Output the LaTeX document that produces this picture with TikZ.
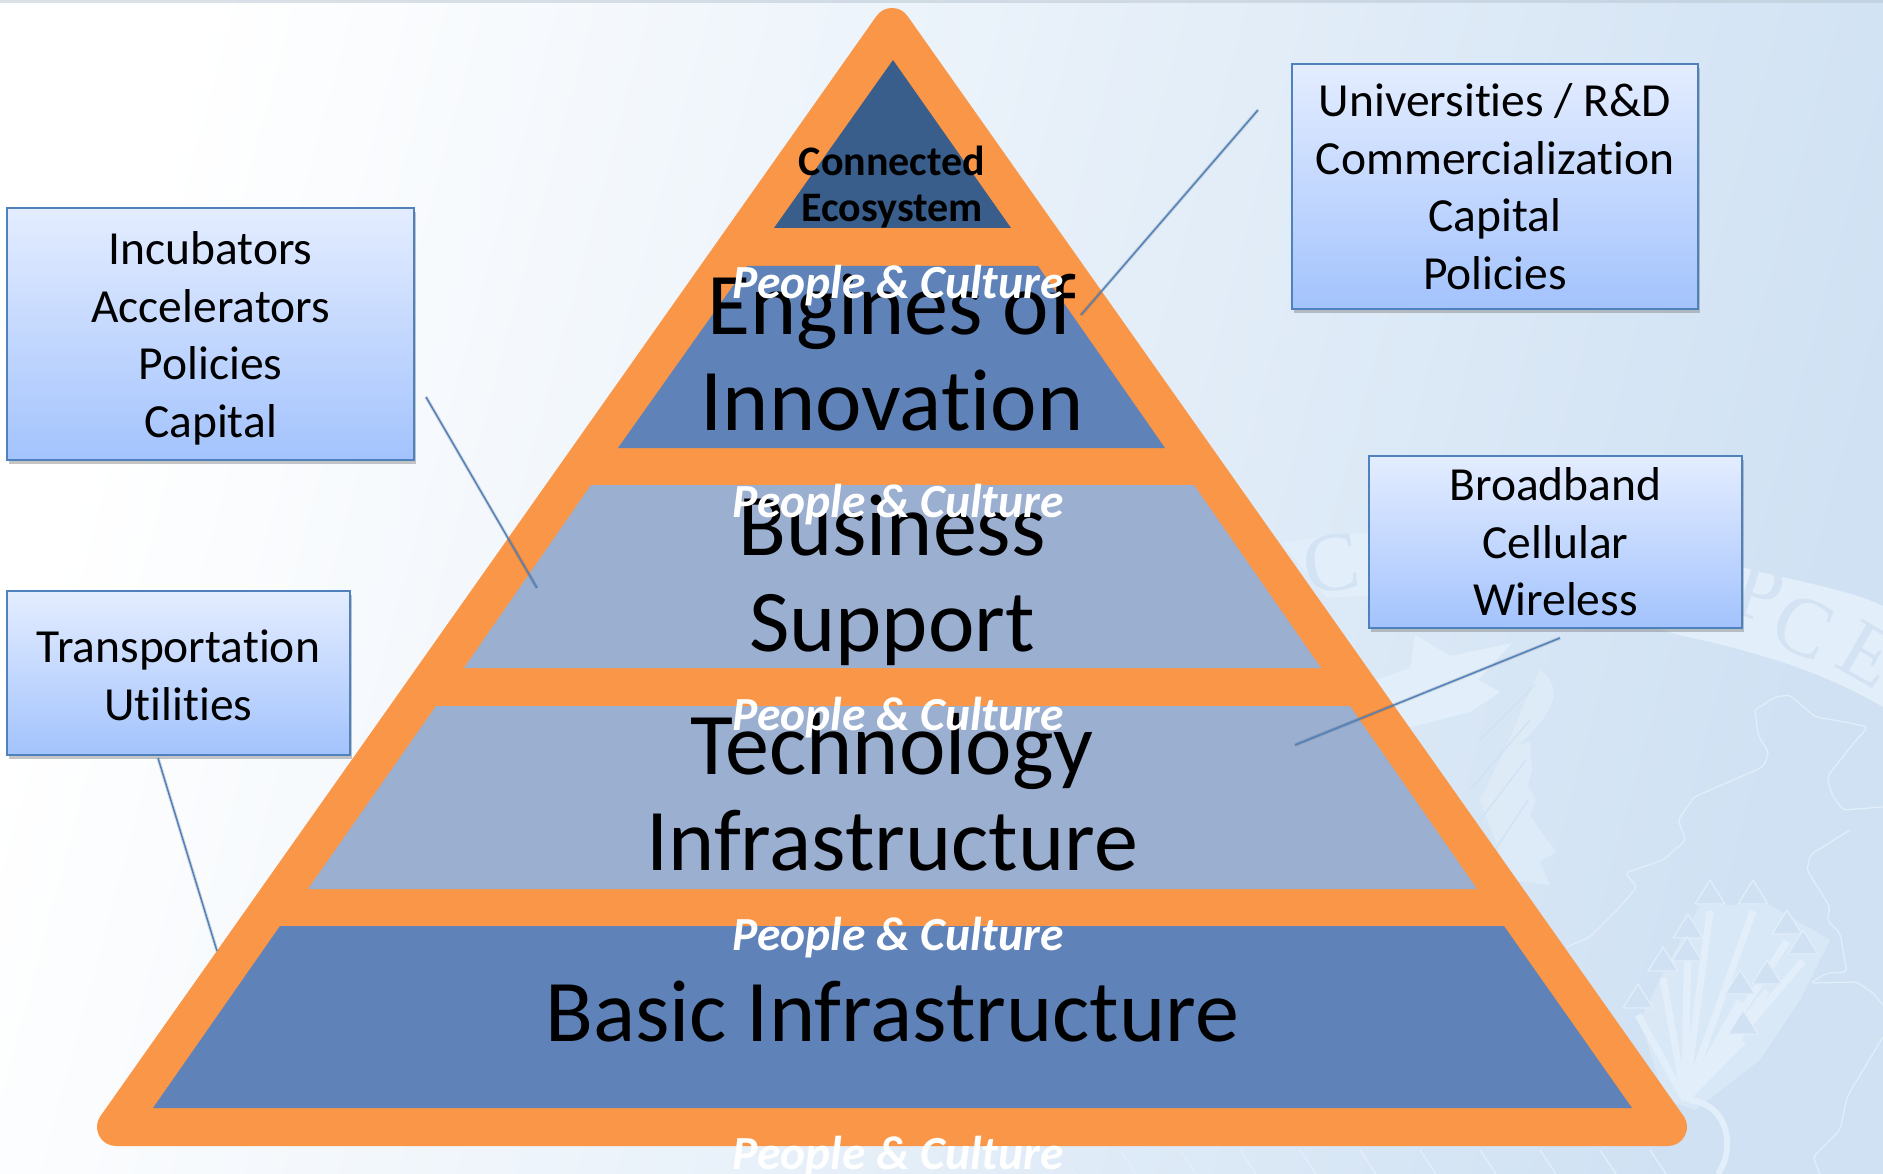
\documentclass[tikz,border=0pt]{standalone}
\usepackage{fontspec}
\setmainfont[Ligatures=CommonOff]{Carlito}
\newfontfamily\sealfont{Liberation Serif}
\usetikzlibrary{shadows}
\definecolor{bgblue}{HTML}{CFE1F3}
\definecolor{sealwhite}{HTML}{E2EEF9}
\definecolor{sealtext}{HTML}{D3E3F3}
\definecolor{pyrorange}{HTML}{F99647}
\definecolor{tierdark}{HTML}{5F82B8}
\definecolor{tierlight}{HTML}{9BAFD0}
\definecolor{tiertop}{HTML}{395E8B}
\definecolor{boxline}{HTML}{4F81BD}
\definecolor{boxtop}{HTML}{E4EDFF}
\definecolor{boxbot}{HTML}{A3C3FD}
\tikzset{
  tierlabel/.style={align=center,text=black,inner sep=0pt,font=\fontsize{88}{96}\selectfont},
  toplabel/.style={align=center,text=black,inner sep=0pt,font=\bfseries\fontsize{42}{46}\selectfont},
  peoplelabel/.style={anchor=base,text=white,inner sep=0pt,font=\bfseries\itshape\fontsize{47.5}{50}\selectfont},
  infobox/.style={draw=boxline,line width=1.6pt,top color=boxtop,bottom color=boxbot,align=center,inner sep=0pt,
    text=black,font=\fontsize{47.5}{57.6}\selectfont,drop shadow={shadow xshift=1.5pt,shadow yshift=-4pt,opacity=0.45}},
  leader/.style={draw=boxline,line width=1.5pt,preaction={draw=black,opacity=0.12,line width=3.5pt}},
  sealline/.style={draw=sealwhite,line width=1.3pt,line join=round,rounded corners=4pt},
  sealshaft/.style={draw=sealwhite,line width=7pt},
  sealletter/.style={text=sealtext,inner sep=0pt,font=\sealfont\fontsize{84}{84}\selectfont}
}
\begin{document}
\begin{tikzpicture}[x=1pt,y=-1pt]
\useasboundingbox (0,0) rectangle (1883,1174);
\shade[left color=white,right color=bgblue,shading angle=75] (0,0) rectangle (1883,1174);
\fill[bgblue!70!gray,opacity=0.5] (0,0) rectangle (1883,3);
% seal behind the pyramid
\fill[sealwhite] (1282,543) .. controls (1450,515) and (1620,530) .. (1745,568) .. controls (1800,582) and (1850,590) .. (1883,606)
  -- (1883,707) .. controls (1820,670) and (1750,650) .. (1678,635) .. controls (1560,595) and (1440,590) .. (1327,598) -- cycle;
\node[sealletter,rotate=8] (sealC) at (1331,563) {C};
\node[sealletter,rotate=-18] (sealP) at (1759,593) {P};
\node[sealletter,rotate=-24] (sealCb) at (1803,627) {C};
\node[sealletter,rotate=-30] (sealE) at (1868,655) {E};
\fill[sealwhite] (1415,635) -- (1450,656) -- (1512,643) -- (1478,680) -- (1500,692) -- (1470,712) -- (1400,730) -- (1375,680) -- (1410,668) -- cycle;
\fill[sealwhite,opacity=0.65] (1539,670) .. controls (1556,680) and (1556,695) .. (1550,708) .. controls (1540,725) and (1530,735) .. (1518,745)
  -- (1530,742) -- (1532,770) -- (1528,785) -- (1536,800) -- (1530,815) -- (1540,830) -- (1556,852) -- (1540,862) -- (1550,885) -- (1510,880) -- (1480,800) -- (1500,760) -- cycle;
\draw[sealline,bgblue] (1535,685) -- (1480,740) (1530,720) -- (1470,790) (1526,760) -- (1480,820) (1528,800) -- (1495,850);
\draw[sealline] (1755,710) -- (1775,697) -- (1790,695) -- (1815,717) -- (1845,722) -- (1868,727) -- (1852,745) -- (1827,777) -- (1832,795) -- (1843,810) -- (1883,807);
\draw[sealline] (1755,710) -- (1758,735) -- (1769,753) -- (1763,767) -- (1694,797) -- (1678,820) -- (1686,840) -- (1663,860) -- (1625,873) -- (1637,887) -- (1617,910) -- (1590,937) -- (1567,947);
\draw[sealline] (1850,830) -- (1810,855) -- (1807,870) -- (1830,907) -- (1827,920) -- (1840,933) -- (1847,972) -- (1827,973) -- (1810,983) -- (1857,982) -- (1873,993) -- (1883,1005);
\draw[sealline] (1883,1037) -- (1863,1070) -- (1847,1097) -- (1840,1130) -- (1813,1157) -- (1820,1174);
\fill[sealwhite,opacity=0.55] (1640,1020) -- (1670,960) -- (1700,905) -- (1770,905) -- (1830,940) -- (1800,1000) -- (1760,1060) -- (1695,1110) -- (1665,1100) -- cycle;
\foreach \hx/\hy in {1710/893,1753/893,1688/927,1687/950,1663/960,1638/997,1787/923,1803/943,1767/973,1740/983,1743/1023} {
  \draw[sealshaft] (1685,1100) -- (\hx,\hy+18);
}
\foreach \hx/\hy in {1710/893,1753/893,1688/927,1687/950,1663/960,1638/997,1787/923,1803/943,1767/973,1740/983,1743/1023} {
  \draw[sealline,rounded corners=0pt,fill=bgblue] (\hx,\hy-13) -- (\hx+15,\hy+11) -- (\hx-15,\hy+11) -- cycle;
}
\draw[sealwhite,line width=6pt] (1690,1100) .. controls (1730,1105) and (1735,1150) .. (1718,1174);
\foreach \sx in {1060,1120,1180,1240,1300,1360,1420,1480,1540,1600,1650} {
  \draw[sealwhite,line width=1.5pt] (\sx,1150) -- (\sx+16,1174);
}
% pyramid
\draw[pyrorange,fill=pyrorange,line width=38pt,line join=round] (892,27) -- (1668,1127) -- (116,1127) -- cycle;
\fill[tiertop] (893,60) -- (1011,228) -- (774,228) -- cycle;
\fill[tierdark] (747,266) -- (1038,266) -- (1165,448) -- (618,448) -- cycle;
\fill[tierlight] (591,485) -- (1194,485) -- (1321,668) -- (464,668) -- cycle;
\fill[tierlight] (436,706) -- (1350,706) -- (1477,889) -- (308,889) -- cycle;
\fill[tierdark] (280,926) -- (1504,926) -- (1632,1108) -- (153,1108) -- cycle;
\node[toplabel] (ecosystem) at (892,187) {Connected\\Ecosystem};
\node[tierlabel] (engines) at (892,353) {Engines of\\Innovation};
\node[tierlabel] (business) at (892,580) {Business\\Support};
\node[tierlabel] (technology) at (892,792) {Technology\\Infrastructure};
\node[tierlabel] (basic) at (892,1012) {Basic Infrastructure};
\foreach \n/\y in {a/298.5,b/517.5,c/730,d/950,e/1169.5} {
  \node[peoplelabel] (people\n) at (898,\y) {People \& Culture};
}
% boxes and their leaders
\node[infobox,minimum width=406pt,minimum height=245pt] (univ) at (1495,186.5) {Universities / R\&D\\Commercialization\\Capital\\Policies};
\node[infobox,minimum width=407pt,minimum height=252pt] (incub) at (210.5,334) {\rule{0pt}{42pt}Incubators\\Accelerators\\Policies\\Capital};
\node[infobox,minimum width=343pt,minimum height=164pt] (transp) at (178.5,673) {\rule{0pt}{37pt}Transportation\\Utilities};
\node[infobox,minimum width=373pt,minimum height=172pt] (broad) at (1555.5,542) {Broadband\\Cellular\\Wireless};
\coordinate (univfoot) at (1258,110);
\coordinate (univtip) at (1081,315);
\coordinate (incubfoot) at (426,397);
\coordinate (incubtip) at (537,588);
\coordinate (transpfoot) at (158,758);
\coordinate (transptip) at (217,951);
\coordinate (broadfoot) at (1560,638);
\coordinate (broadtip) at (1295,745);
\draw[leader] (univfoot) -- (univtip);
\draw[leader] (incubfoot) -- (incubtip);
\draw[leader] (transpfoot) -- (transptip);
\draw[leader] (broadfoot) -- (broadtip);
\end{tikzpicture}
\end{document}
